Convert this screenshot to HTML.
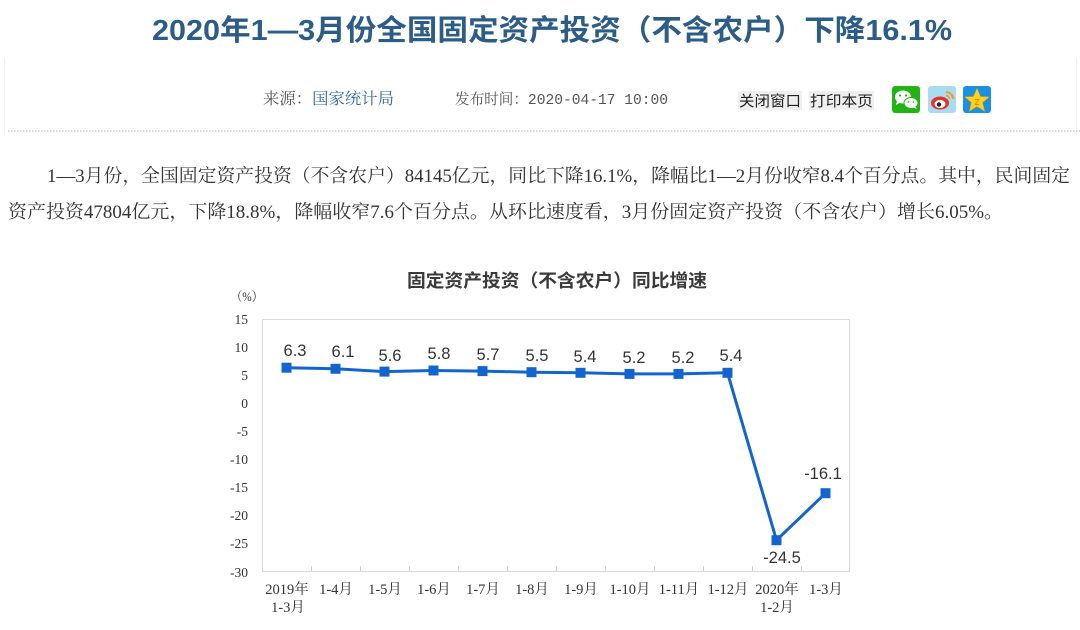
<!DOCTYPE html>
<html>
<head>
<meta charset="utf-8">
<style>
  html,body{margin:0;padding:0;background:#fff;}
  svg{display:block;}
  .sans{font-family:"Liberation Sans","Noto Sans CJK SC",sans-serif;}
  .serif{font-family:"Liberation Serif","Noto Serif CJK SC",serif;}
  .mono{font-family:"Liberation Mono","Noto Serif CJK SC",monospace;}
</style>
</head>
<body>
<svg width="1080" height="630" viewBox="0 0 1080 630" xmlns="http://www.w3.org/2000/svg">
  <rect x="0" y="0" width="1080" height="630" fill="#ffffff"/>
  <!-- faint side borders -->
  <line x1="4.5" y1="58" x2="4.5" y2="135" stroke="#f2f2f2" stroke-width="1"/>
  <line x1="1076.5" y1="58" x2="1076.5" y2="135" stroke="#f2f2f2" stroke-width="1"/>

  <!-- Title -->
  <text x="152" y="40" class="sans" font-size="29" font-weight="bold" fill="#2c5d88" textLength="800" lengthAdjust="spacingAndGlyphs">2020年1—3月份全国固定资产投资（不含农户）下降16.1%</text>

  <!-- Meta line -->
  <text x="263" y="104" class="serif" font-size="16" fill="#555" textLength="131" lengthAdjust="spacingAndGlyphs">来源：<tspan fill="#2f6aa8">国家统计局</tspan></text>
  <text x="455" y="104" class="mono" font-size="15" fill="#555" textLength="213" lengthAdjust="spacingAndGlyphs">发布时间：2020-04-17 10:00</text>

  <rect x="738" y="91" width="64" height="19" fill="#efefef"/>
  <text x="739" y="106" class="sans" font-size="15" fill="#222" textLength="62" lengthAdjust="spacingAndGlyphs">关闭窗口</text>
  <rect x="809" y="91" width="65" height="19" fill="#efefef"/>
  <text x="810" y="106" class="sans" font-size="15" fill="#222" textLength="63" lengthAdjust="spacingAndGlyphs">打印本页</text>

  <!-- WeChat icon -->
  <rect x="892" y="86" width="28" height="27" rx="3" fill="#22b415"/>
  <ellipse cx="903" cy="97" rx="8" ry="6.5" fill="#fff"/>
  <path d="M897 101 L896 105 L901 102 Z" fill="#fff"/>
  <ellipse cx="911" cy="103" rx="7" ry="5.5" fill="#fff" stroke="#22b415" stroke-width="1"/>
  <path d="M915 106 L917 109 L912 107 Z" fill="#fff"/>
  <circle cx="900" cy="95.5" r="1.1" fill="#22b415"/>
  <circle cx="906" cy="95.5" r="1.1" fill="#22b415"/>
  <circle cx="908.5" cy="102" r="0.9" fill="#22b415"/>
  <circle cx="913.5" cy="102" r="0.9" fill="#22b415"/>

  <!-- Weibo icon -->
  <rect x="928" y="86" width="28" height="27" rx="3" fill="#a9dcf0"/>
  <ellipse cx="940" cy="103" rx="9" ry="6.5" fill="#e6322a"/>
  <ellipse cx="940" cy="104" rx="5.5" ry="4" fill="#fff"/>
  <circle cx="939" cy="104.5" r="2.2" fill="#222"/>
  <path d="M946 92 A7 7 0 0 1 953 99" stroke="#f39c1f" stroke-width="2" fill="none"/>
  <path d="M946 95.5 A3.5 3.5 0 0 1 949.5 99" stroke="#f39c1f" stroke-width="1.6" fill="none"/>

  <!-- Qzone icon -->
  <rect x="963" y="86" width="28" height="27" rx="3" fill="#1b8fe2"/>
  <polygon points="977,88.5 980.5,96.5 989,97 982.5,102.5 984.5,111 977,106.5 969.5,111 971.5,102.5 965,97 973.5,96.5" fill="#ffd21f" stroke="#f0a800" stroke-width="0.6"/>
  <text x="977" y="105" text-anchor="middle" class="sans" font-size="8" font-weight="bold" fill="#e08a00">Z</text>

  <!-- dotted separator -->
  <line x1="8" y1="131" x2="1080" y2="131" stroke="#b5b5b5" stroke-width="1" stroke-dasharray="1.5,1.5"/>

  <!-- Paragraph -->
  <text x="47" y="182" class="serif" font-size="18.5" fill="#333" textLength="1023" lengthAdjust="spacingAndGlyphs">1—3月份，全国固定资产投资（不含农户）84145亿元，同比下降16.1%，降幅比1—2月份收窄8.4个百分点。其中，民间固定</text>
  <text x="8" y="218" class="serif" font-size="18.5" fill="#333" textLength="995" lengthAdjust="spacingAndGlyphs">资产投资47804亿元，下降18.8%，降幅收窄7.6个百分点。从环比速度看，3月份固定资产投资（不含农户）增长6.05%。</text>

  <!-- Chart title -->
  <text x="407" y="287" class="sans" font-size="18" font-weight="bold" fill="#3a3a3a" textLength="300" lengthAdjust="spacingAndGlyphs">固定资产投资（不含农户）同比增速</text>

  <!-- unit -->
  <text x="231" y="301" class="serif" font-size="13" fill="#333" textLength="32" lengthAdjust="spacingAndGlyphs">（%）</text>

  <!-- plot frame -->
  <rect x="262.5" y="319.5" width="587" height="252" fill="none" stroke="#d9d9d9" stroke-width="1"/>

  <!-- y labels -->
  <g class="serif" font-size="13.5" fill="#333" text-anchor="end">
    <text x="248" y="324">15</text>
    <text x="248" y="352">10</text>
    <text x="248" y="380">5</text>
    <text x="248" y="408">0</text>
    <text x="248" y="436">-5</text>
    <text x="248" y="464">-10</text>
    <text x="248" y="492">-15</text>
    <text x="248" y="520">-20</text>
    <text x="248" y="548">-25</text>
    <text x="248" y="577">-30</text>
  </g>

  <!-- x ticks -->
  <g stroke="#d0d0d0" stroke-width="1">
    <line x1="311.5" y1="571" x2="311.5" y2="566"/>
    <line x1="360.5" y1="571" x2="360.5" y2="566"/>
    <line x1="409.5" y1="571" x2="409.5" y2="566"/>
    <line x1="458.5" y1="571" x2="458.5" y2="566"/>
    <line x1="507.5" y1="571" x2="507.5" y2="566"/>
    <line x1="556.5" y1="571" x2="556.5" y2="566"/>
    <line x1="605.5" y1="571" x2="605.5" y2="566"/>
    <line x1="654.5" y1="571" x2="654.5" y2="566"/>
    <line x1="703.5" y1="571" x2="703.5" y2="566"/>
    <line x1="752.5" y1="571" x2="752.5" y2="566"/>
    <line x1="801.5" y1="571" x2="801.5" y2="566"/>
  </g>

  <!-- x labels -->
  <g class="serif" font-size="14.5" fill="#333" text-anchor="middle">
    <text x="287" y="594">2019年</text>
    <text x="288" y="612">1-3月</text>
    <text x="336" y="594">1-4月</text>
    <text x="385" y="594">1-5月</text>
    <text x="434" y="594">1-6月</text>
    <text x="483" y="594">1-7月</text>
    <text x="532" y="594">1-8月</text>
    <text x="581" y="594">1-9月</text>
    <text x="630" y="594">1-10月</text>
    <text x="679" y="594">1-11月</text>
    <text x="728" y="594">1-12月</text>
    <text x="777" y="594">2020年</text>
    <text x="777" y="612">1-2月</text>
    <text x="826" y="594">1-3月</text>
  </g>

  <!-- series line -->
  <polyline fill="none" stroke="#1364cf" stroke-width="3" stroke-linejoin="round"
    points="286.5,367.7 335.5,368.8 384.5,371.6 433.5,370.5 482.5,371.1 531.5,372.2 580.5,372.8 629.5,373.9 678.5,373.9 727.5,372.8 776.5,540.2 825.5,493.2"/>

  <!-- markers -->
  <g fill="#1364cf">
    <rect x="281.5" y="362.7" width="10" height="10"/>
    <rect x="330.5" y="363.8" width="10" height="10"/>
    <rect x="379.5" y="366.6" width="10" height="10"/>
    <rect x="428.5" y="365.5" width="10" height="10"/>
    <rect x="477.5" y="366.1" width="10" height="10"/>
    <rect x="526.5" y="367.2" width="10" height="10"/>
    <rect x="575.5" y="367.8" width="10" height="10"/>
    <rect x="624.5" y="368.9" width="10" height="10"/>
    <rect x="673.5" y="368.9" width="10" height="10"/>
    <rect x="722.5" y="367.8" width="10" height="10"/>
    <rect x="771.5" y="535.2" width="10" height="10"/>
    <rect x="820.5" y="488.2" width="10" height="10"/>
  </g>

  <!-- data labels -->
  <g class="sans" font-size="16.5" fill="#333" text-anchor="middle">
    <text x="295" y="356">6.3</text>
    <text x="343" y="357">6.1</text>
    <text x="390" y="361">5.6</text>
    <text x="439" y="359">5.8</text>
    <text x="488" y="360">5.7</text>
    <text x="537" y="361">5.5</text>
    <text x="585" y="362">5.4</text>
    <text x="634" y="363">5.2</text>
    <text x="683" y="363">5.2</text>
    <text x="731" y="361">5.4</text>
    <text x="782" y="563">-24.5</text>
    <text x="823" y="479">-16.1</text>
  </g>
</svg>
</body>
</html>
